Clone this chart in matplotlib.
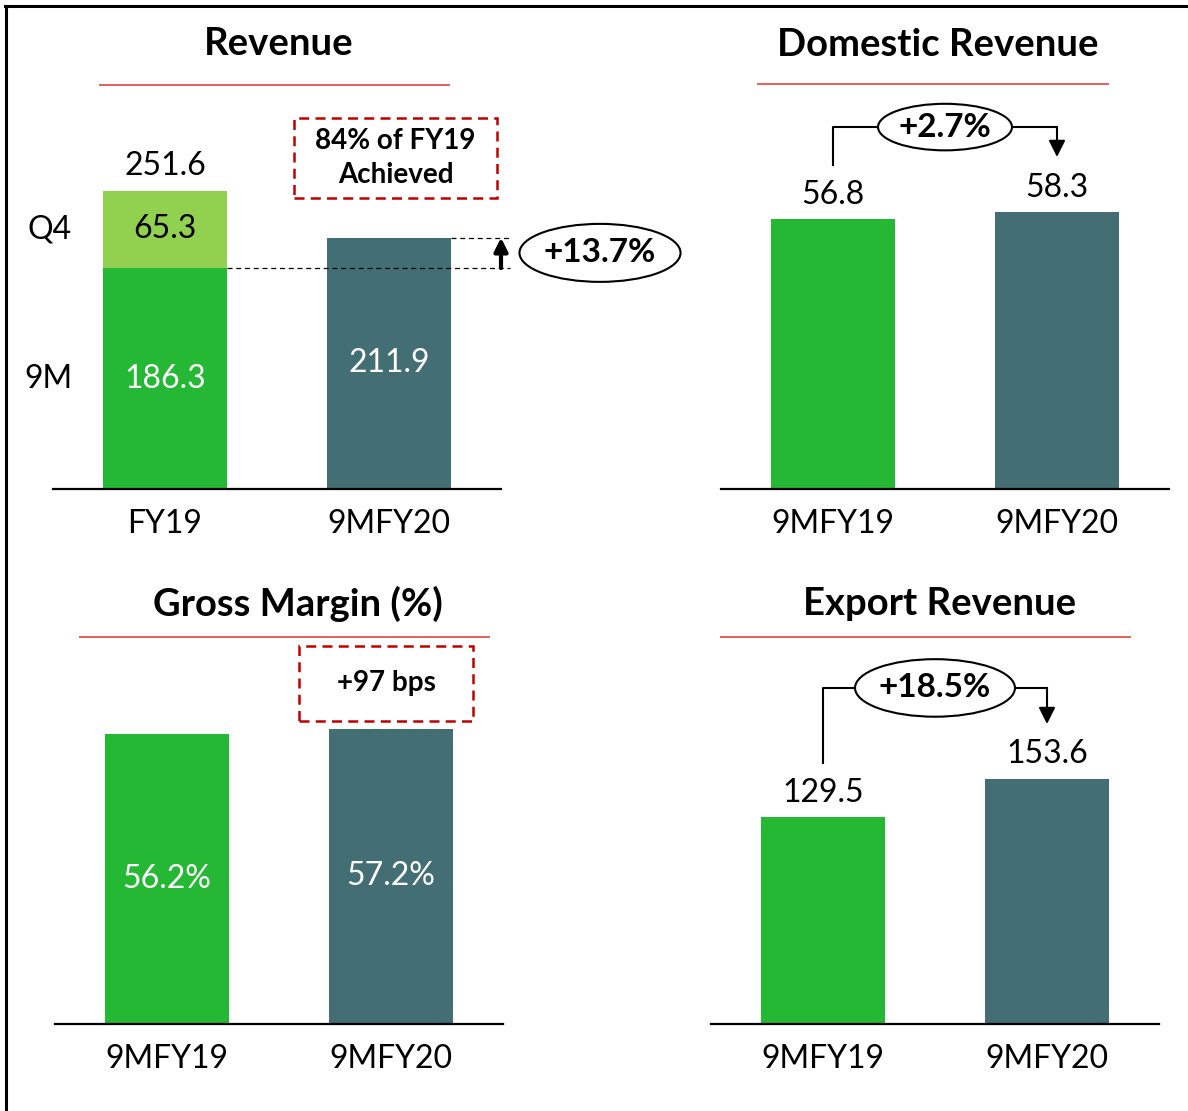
import matplotlib
matplotlib.use("Agg")
import matplotlib.pyplot as plt
from matplotlib.lines import Line2D
from matplotlib.patches import Ellipse, Rectangle

plt.rcParams["font.family"] = ["Lato", "DejaVu Sans"]

# data
rev_cats = ["FY19", "9MFY20"]
rev_9m = [186.3, 211.9]
rev_q4 = [65.3, 0.0]
rev_growth = "+13.7%"
rev_note = "84% of FY19\nAchieved"

dom_cats = ["9MFY19", "9MFY20"]
dom_vals = [56.8, 58.3]
dom_growth = "+2.7%"

gm_cats = ["9MFY19", "9MFY20"]
gm_vals = [56.2, 57.2]
gm_note = "+97 bps"

exp_cats = ["9MFY19", "9MFY20"]
exp_vals = [129.5, 153.6]
exp_growth = "+18.5%"

GREEN = "#25B835"
LIGHT = "#92D050"
TEAL = "#436E74"
RED_LINE = "#E4605E"
RED_BOX = "#C00000"

W, H = 1188, 1111
fig = plt.figure(figsize=(W / 100, H / 100), dpi=100)


def px_axes(left, top, right, bottom):
    return fig.add_axes([left / W, 1 - bottom / H, (right - left) / W, (bottom - top) / H])


def px_line(x0, x1, y0, y1, **kw):
    fig.add_artist(Line2D([x0 / W, x1 / W], [1 - y0 / H, 1 - y1 / H],
                          transform=fig.transFigure, **kw))


def title(text, xc, y, x0, x1, yl):
    fig.text(xc / W, 1 - y / H, text, ha="center", va="center",
             fontsize=27.5, fontweight="bold")
    px_line(x0, x1, yl, yl, color=RED_LINE, lw=1.4)


def style(ax, cats, ymax):
    ax.set_xlim(-0.5, 1.5)
    ax.set_ylim(0, ymax)
    for s in ["top", "left", "right"]:
        ax.spines[s].set_visible(False)
    ax.spines["bottom"].set_linewidth(1.6)
    ax.set_yticks([])
    ax.set_xticks([0, 1])
    ax.set_xticklabels(cats, fontsize=23)
    ax.tick_params(axis="x", length=0, pad=14.5)
    ax.patch.set_alpha(0)


def growth(ax, vals, ylev, ybot, ytip, text, ew, eh):
    # elbow connector from first bar to second through an ellipse label
    ax.plot([0, 0, 0.5 - ew / 2], [ybot, ylev, ylev], color="black", lw=1.5, clip_on=False)
    ax.plot([0.5 + ew / 2, 1], [ylev, ylev], color="black", lw=1.5, clip_on=False)
    ax.annotate("", xy=(1, ytip), xytext=(1, ylev + 0.01),
                arrowprops=dict(arrowstyle="-|>", color="black", lw=1.5,
                                mutation_scale=25, shrinkA=0, shrinkB=0),
                annotation_clip=False)
    ax.add_patch(Ellipse((0.5, ylev), ew, eh, facecolor="white",
                         edgecolor="black", lw=1.5, clip_on=False, zorder=3))
    ax.text(0.5, ylev, text, ha="center", va="center", fontsize=24,
            fontweight="bold", zorder=4)


def value_labels(ax, vals, tops):
    for i, (v, t) in enumerate(zip(vals, tops)):
        ax.annotate(f"{v:.1f}", xy=(i, t), xytext=(0, 17.5), textcoords="offset points",
                    ha="center", va="center", fontsize=23, annotation_clip=False)


BW = 0.558

# Revenue
ax1 = px_axes(53, 100, 501, 489)
style(ax1, rev_cats, 328)
ax1.bar([0, 1], rev_9m, width=BW, color=[GREEN, TEAL])
ax1.bar([0], rev_q4[:1], bottom=rev_9m[:1], width=BW, color=LIGHT)
total = rev_9m[0] + rev_q4[0]
ax1.annotate(f"{total:.1f}", xy=(0, total), xytext=(0, 17.5), textcoords="offset points",
             ha="center", va="center", fontsize=23, annotation_clip=False)
ax1.text(0, rev_9m[0] + rev_q4[0] / 2, f"{rev_q4[0]:.1f}", ha="center", va="center", fontsize=23)
for i, v in enumerate(rev_9m):
    ax1.text(i, v / 2, f"{v:.1f}", ha="center", va="center", fontsize=23, color="white")
ax1.text(-0.415, rev_9m[0] + rev_q4[0] / 2, "Q4", ha="right", va="center", fontsize=23)
ax1.text(-0.415, rev_9m[0] / 2, "9M", ha="right", va="center", fontsize=23)
ax1.plot([BW / 2, 1.54], [rev_9m[0]] * 2, color="black", lw=0.9, ls=(0, (4, 3)), clip_on=False)
ax1.plot([1 + BW / 2, 1.54], [rev_9m[1]] * 2, color="black", lw=0.9, ls=(0, (4, 3)), clip_on=False)
ax1.annotate("", xy=(1.5, rev_9m[1]), xytext=(1.5, rev_9m[0]),
             arrowprops=dict(arrowstyle="-|>", color="black", lw=3,
                             mutation_scale=20, shrinkA=0, shrinkB=0),
             annotation_clip=False)
ymid = (rev_9m[0] + rev_9m[1]) / 2
ax1.add_patch(Ellipse((1.942, ymid), 0.719, 48.9, facecolor="white", edgecolor="black",
                      lw=1.5, clip_on=False))
ax1.text(1.942, ymid, rev_growth, ha="center", va="center", fontsize=24, fontweight="bold")
ax1.add_patch(Rectangle((0.576, 245.4), 0.906, 67.4, facecolor="none", edgecolor=RED_BOX,
                        lw=1.8, ls=(0, (4, 2.5)), clip_on=False))
ax1.text(1.029, 279, rev_note, ha="center", va="center", fontsize=20,
         fontweight="bold", linespacing=1.4)
title("Revenue", 279, 44, 100, 449, 85)

# Domestic revenue
ax2 = px_axes(721, 100, 1169, 489)
style(ax2, dom_cats, 81.9)
ax2.bar([0, 1], dom_vals, width=BW, color=[GREEN, TEAL])
value_labels(ax2, dom_vals, dom_vals)
growth(ax2, dom_vals, 76.2, 68.2, 69.9, dom_growth, 0.598, 9.8)
title("Domestic Revenue", 938, 45, 758, 1108, 84)

# Gross margin
ax3 = px_axes(55, 640, 503, 1024)
style(ax3, gm_cats, 74.4)
ax3.bar([0, 1], gm_vals, width=BW, color=[GREEN, TEAL])
for i, v in enumerate(gm_vals):
    ax3.text(i, v / 2, f"{v:.1f}%", ha="center", va="center", fontsize=23, color="white")
ax3.add_patch(Rectangle((0.589, 58.7), 0.777, 14.6, facecolor="none", edgecolor=RED_BOX,
                        lw=1.8, ls=(0, (4, 2.5)), clip_on=False))
ax3.text(0.978, 66.0, gm_note, ha="center", va="center", fontsize=20, fontweight="bold")
title("Gross Margin (%)", 298, 604, 80, 489, 637)

# Export revenue
ax4 = px_axes(711, 640, 1159, 1024)
style(ax4, exp_cats, 240.3)
ax4.bar([0, 1], exp_vals, width=BW, color=[GREEN, TEAL])
value_labels(ax4, exp_vals, exp_vals)
growth(ax4, exp_vals, 210.3, 163.3, 187.7, exp_growth, 0.714, 36.0)
title("Export Revenue", 940, 604, 721, 1130, 637)

# frame
px_line(5, W, 6, 6, color="black", lw=2.2)
px_line(6, 6, 6, H, color="black", lw=2.2)

fig.savefig("out.png", dpi=100)
